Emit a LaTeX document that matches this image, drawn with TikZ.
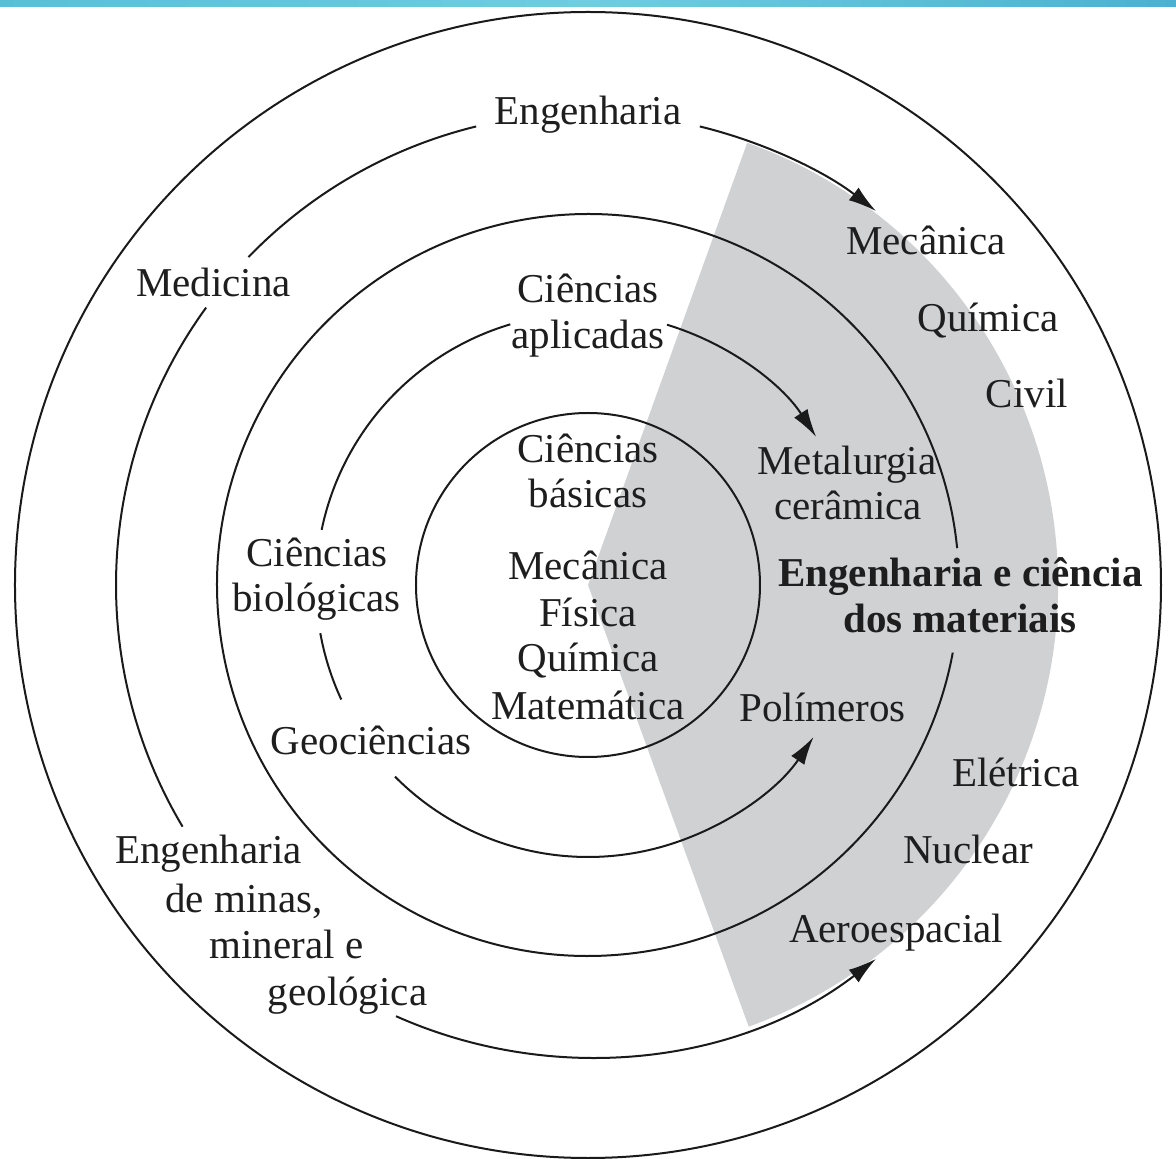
\documentclass[tikz,border=0pt]{standalone}
\usepackage{fontspec}
\setmainfont{Liberation Serif}
\usetikzlibrary{arrows.meta}
\definecolor{linec}{HTML}{1A1A1A}
\definecolor{txtc}{HTML}{1E1E1E}
\definecolor{sectorc}{HTML}{D0D1D3}
\definecolor{barL}{HTML}{55C1D9}
\definecolor{barM}{HTML}{6BCFE0}
\definecolor{barR}{HTML}{47B2D3}
\begin{document}
\begin{tikzpicture}[x=1pt,y=1pt,
  ring/.style={line width=2pt, draw=linec},
  arr/.style={ring, -{Latex[length=28pt,width=16pt]}},
  lbl/.style={anchor=base, inner sep=0pt, text=txtc, font=\fontsize{41}{46}\selectfont},
  blbl/.style={lbl, font=\fontsize{41}{46}\selectfont\bfseries}]
% canvas
\useasboundingbox (-588,-574) rectangle (588,585);
\fill[white] (-588,-574) rectangle (588,585);
\shade[left color=barL, right color=barR, middle color=barM] (-588,578) rectangle (588,585);
\coordinate (c) at (0,0);
% grey sector
\fill[sectorc] (c) -- (70.2:470) arc[start angle=70.2, end angle=-70, radius=470] -- cycle;
% full circles
\draw[ring] (c) circle[radius=573];
\draw[ring] (c) circle[radius=172];
% ring 3 with gap for the bold label
\draw[ring] (5.7:371) arc[start angle=5.7, end angle=349.5, radius=371];
% ring 2
\draw[arr] (76.3:472) arc[start angle=76.3, end angle=52.4, radius=472];
\draw[ring] (103.7:472) arc[start angle=103.7, end angle=136, radius=472];
\draw[ring] (144:472) arc[start angle=144, end angle=210.8, radius=472];
\draw[arr] (246:472) arc[start angle=246, end angle=307.6, radius=472];
% ring 4
\draw[arr] (73.1:272) arc[start angle=73.1, end angle=33, radius=272];
\draw[ring] (106.6:272) arc[start angle=106.6, end angle=168.3, radius=272];
\draw[ring] (190.2:272) arc[start angle=190.2, end angle=204.9, radius=272];
\draw[arr] (224.8:272) arc[start angle=224.8, end angle=326, radius=272];
% labels
\node[lbl] (eng) at (0,460) {Engenharia};
\node[lbl] (med) at (-374.5,288) {Medicina};
\node[lbl] (mec2) at (338,330) {Mecânica};
\node[lbl] (qui2) at (400,253) {Química};
\node[lbl] (civ) at (439,177) {Civil};
\node[lbl] (ca1) at (0,282) {Ciências};
\node[lbl] (ca2) at (0,236) {aplicadas};
\node[lbl] (cb1) at (0,122) {Ciências};
\node[lbl] (cb2) at (0,77) {básicas};
\node[lbl] (m1) at (0,5) {Mecânica};
\node[lbl] (m2) at (0,-42) {Física};
\node[lbl] (m3) at (0,-87) {Química};
\node[lbl] (m4) at (0,-135) {Matemática};
\node[lbl] (met1) at (259,110) {Metalurgia};
\node[lbl] (met2) at (260,65) {cerâmica};
\node[blbl] (ecm1) at (372.5,-2) {Engenharia e ciência};
\node[blbl] (ecm2) at (372,-48) {dos materiais};
\node[lbl] (bio1) at (-271,18) {Ciências};
\node[lbl] (bio2) at (-271.5,-27) {biológicas};
\node[lbl] (geo) at (-217,-170) {Geociências};
\node[lbl] (pol) at (234.5,-137) {Polímeros};
\node[lbl] (ele) at (428,-202) {Elétrica};
\node[lbl] (nuc) at (380,-278) {Nuclear};
\node[lbl] (aer) at (308,-357) {Aeroespacial};
\node[lbl] (em1) at (-379.5,-278) {Engenharia};
\node[lbl] (em2) at (-344,-327) {de minas,};
\node[lbl] (em3) at (-301.5,-373) {mineral e};
\node[lbl] (em4) at (-240.5,-420) {geológica};
\end{tikzpicture}
\end{document}
